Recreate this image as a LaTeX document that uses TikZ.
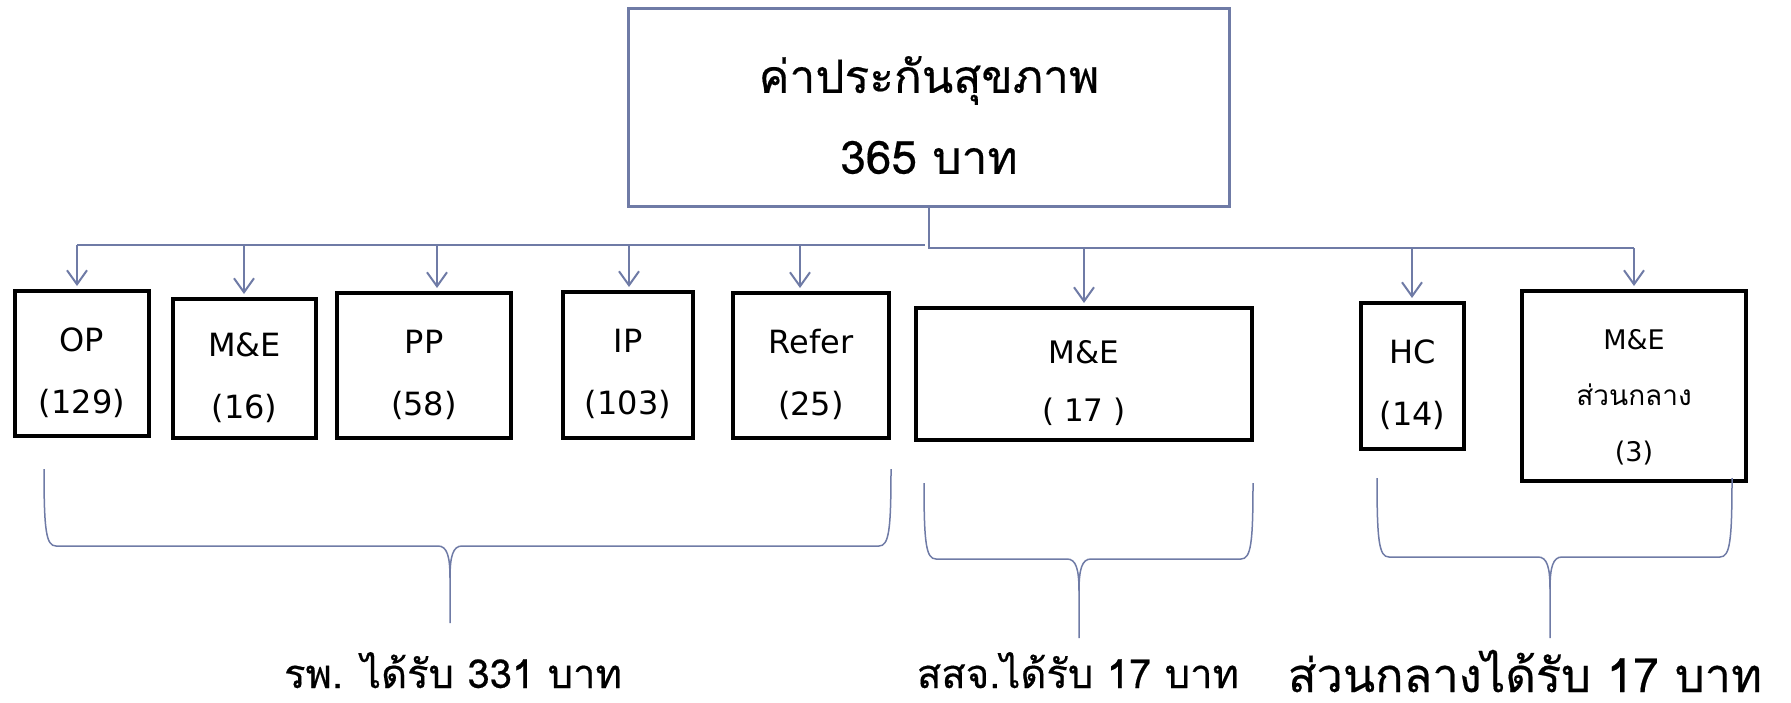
\documentclass[tikz,border=0pt]{standalone}
\usepackage{fontspec}
\setmainfont{DejaVu Sans}
\newfontfamily\thai[Script=Thai]{Loma}
\newfontfamily\thaimid[Script=Thai,FakeBold=0.4]{Loma}
\usetikzlibrary{arrows.meta}
\definecolor{linkblue}{RGB}{111,123,166}
\newcommand{\boxstrut}{\rule{0pt}{42pt}}
\tikzset{
  fund/.style={draw=linkblue, line width=3pt, minimum width=601pt, minimum height=198pt, align=center, font=\thaimid\fontsize{46}{81}\selectfont},
  part/.style={draw=black, line width=4pt, align=center, inner sep=0pt, font=\fontsize{32}{62}\selectfont},
  link/.style={draw=linkblue, line width=2pt},
  feed/.style={link, -{Straight Barb[length=14pt,width=20pt]}, shorten >=3pt},
  share/.style={draw=linkblue, line width=1.5pt},
  gets/.style={anchor=base, font=\thaimid\fontsize{40}{50}\selectfont}
}

\begin{document}
\begin{tikzpicture}[x=1pt,y=-1pt]
\useasboundingbox (0,0) rectangle (1791,702);

\node[fund] (top) at (929,107.5) {\rule{0pt}{52pt}ค่าประกันสุขภาพ\\365 บาท};

\node[part, minimum width=134pt, minimum height=145pt] (op) at (82,363.5) {\boxstrut OP\\(129)};
\node[part, minimum width=143pt, minimum height=139pt] (me1) at (244.5,368.5) {\boxstrut M\&E\\(16)};
\node[part, minimum width=174pt, minimum height=145pt] (pp) at (424,365.5) {\boxstrut PP\\(58)};
\node[part, minimum width=130pt, minimum height=146pt] (ip) at (628,365) {\boxstrut IP\\(103)};
\node[part, minimum width=156pt, minimum height=145pt] (refer) at (811,365.5) {\boxstrut Refer\\(25)};
\node[part, minimum width=336pt, minimum height=132pt, font=\fontsize{31}{58}\selectfont] (me2) at (1084,374) {\boxstrut M\&E\\( 17 )};
\node[part, minimum width=103pt, minimum height=146pt] (hc) at (1412.5,376) {\boxstrut HC\\(14)};
\node[part, minimum width=224pt, minimum height=190pt, font=\fontsize{27}{56}\selectfont] (me3) at (1634,386) {\boxstrut M\&E\\{\thai\fontsize{28}{56}\selectfont ส่วนกลาง}\\(3)};

% drop points on the bus
\coordinate (dOP) at (77,245);
\coordinate (dME1) at (244,245);
\coordinate (dPP) at (437,245);
\coordinate (dIP) at (629,245);
\coordinate (dRef) at (800,245);
\coordinate (busEnd) at (925,245);
\coordinate (dME2) at (1084,248);
\coordinate (dHC) at (1412,248);
\coordinate (dME3) at (1634,248);

\draw[link] (dOP) -- (busEnd);
\draw[link] (top.south) -- (top.south |- dME3) -- (dME3);

\draw[feed] (dOP) -- (dOP |- op.north);
\draw[feed] (dME1) -- (dME1 |- me1.north);
\draw[feed] (dPP) -- (dPP |- pp.north);
\draw[feed] (dIP) -- (dIP |- ip.north);
\draw[feed] (dRef) -- (dRef |- refer.north);
\draw[feed] (dME2) -- (dME2 |- me2.north);
\draw[feed] (dHC) -- (dHC |- hc.north);
\draw[feed] (dME3) -- (dME3 |- me3.north);

% braces
\draw[share] (44,469) .. controls (44,530) and (46,546) .. (56,546) -- (438,546) .. controls (447,546) and (450,556) .. (450,578) -- (450,623);
\draw[share] (891,469) .. controls (891,530) and (889,546) .. (879,546) -- (462,546) .. controls (453,546) and (450,556) .. (450,578);
\draw[share] (924,483) .. controls (924,543) and (926,559) .. (936,559) -- (1067,559) .. controls (1076,559) and (1079,569) .. (1079,591) -- (1079,638);
\draw[share] (1253,483) .. controls (1253,543) and (1251,559) .. (1241,559) -- (1091,559) .. controls (1082,559) and (1079,569) .. (1079,591);
\draw[share] (1377,478) .. controls (1377,541) and (1379,557) .. (1389,557) -- (1538,557) .. controls (1547,557) and (1550,567) .. (1550,589) -- (1550,638);
\draw[share] (1732,478) .. controls (1732,541) and (1730,557) .. (1720,557) -- (1562,557) .. controls (1553,557) and (1550,567) .. (1550,589);

\node[gets] (hosp) at (453,688) {รพ. ได้รับ 331 บาท};
\node[gets] (prov) at (1078,688) {สสจ.ได้รับ 17 บาท};
\node[gets, font=\thaimid\fontsize{47}{50}\selectfont] (central) at (1525,692) {ส่วนกลางได้รับ 17 บาท};
\end{tikzpicture}
\end{document}
